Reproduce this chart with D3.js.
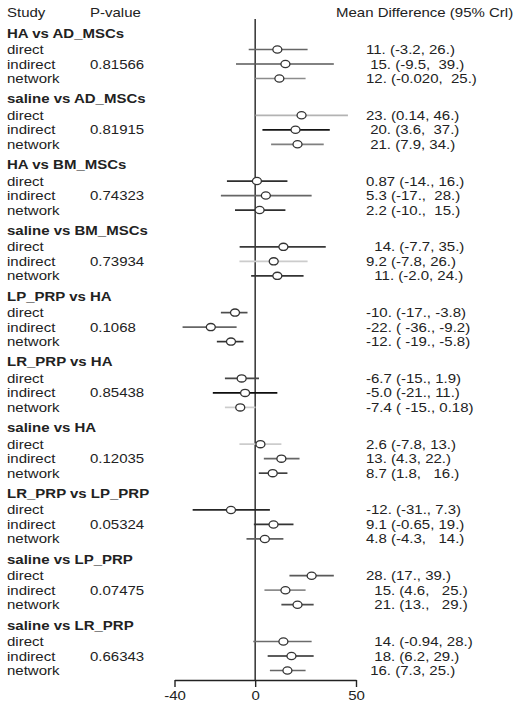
<!DOCTYPE html>
<html>
<head>
<meta charset="utf-8">
<script src="https://cdn.jsdelivr.net/npm/d3@7"></script>
<style>
  html, body { margin: 0; padding: 0; background: #fff; }
  svg { display: block; }
  text { font-family: "Liberation Sans", Arial, sans-serif; font-size: 12.5px; fill: #222; white-space: pre; }
</style>
</head>
<body>
<svg id="chart" width="521" height="707"></svg>
<script>
// ---- data ----
const comparisons = ["HA vs AD_MSCs", "saline vs AD_MSCs", "HA vs BM_MSCs", "saline vs BM_MSCs",
  "LP_PRP vs HA", "LR_PRP vs HA", "saline vs HA", "LR_PRP vs LP_PRP", "saline vs LP_PRP", "saline vs LR_PRP"];
const pValues = ["0.81566", "0.81915", "0.74323", "0.73934", "0.1068", "0.85438", "0.12035", "0.05324", "0.07475", "0.66343"];
const sources = ["direct", "indirect", "network"];
// per comparison: direct, indirect, network
const means = [11, 15, 12, 23, 20, 21, 0.87, 5.3, 2.2, 14, 9.2, 11, -10, -22, -12,
  -6.7, -5.0, -7.4, 2.6, 13, 8.7, -12, 9.1, 4.8, 28, 15, 21, 14, 18, 16];
const lowers = [-3.2, -9.5, -0.020, 0.14, 3.6, 7.9, -14, -17, -10, -7.7, -7.8, -2.0, -17, -36, -19,
  -15, -21, -15, -7.8, 4.3, 1.8, -31, -0.65, -4.3, 17, 4.6, 13, -0.94, 6.2, 7.3];
const uppers = [26, 39, 25, 46, 37, 34, 16, 28, 15, 35, 26, 24, -3.8, -9.2, -5.8,
  1.9, 11, 0.18, 13, 22, 16, 7.3, 19, 14, 39, 25, 29, 28, 29, 25];
const estimateLabels = [
  "11. (-3.2, 26.)", " 15. (-9.5,  39.)", "12. (-0.020,  25.)",
  "23. (0.14, 46.)", " 20. (3.6,  37.)", " 21. (7.9, 34.)",
  "0.87 (-14., 16.)", "5.3 (-17.,  28.)", "2.2 (-10.,  15.)",
  "  14. (-7.7, 35.)", "9.2 (-7.8, 26.)", "  11. (-2.0, 24.)",
  "-10. (-17., -3.8)", "-22. ( -36., -9.2)", "-12. ( -19., -5.8)",
  "-6.7 (-15., 1.9)", "-5.0 (-21., 11.)", "-7.4 ( -15., 0.18)",
  "2.6 (-7.8, 13.)", "13. (4.3, 22.)", "8.7 (1.8,   16.)",
  "-12. (-31., 7.3)", "9.1 (-0.65, 19.)", "4.8 (-4.3,   14.)",
  "28. (17., 39.)", "  15. (4.6,   25.)", "  21. (13.,   29.)",
  "  14. (-0.94, 28.)", "  18. (6.2, 29.)", " 16. (7.3, 25.)"
];
// relative line weight (shade) as seen in the picture, 0 = white, 1 = black
const weights = [0.6, 0.65, 0.45, 0.3, 0.92, 0.5, 0.82, 0.6, 0.82, 0.78, 0.2, 0.8,
  0.7, 0.6, 0.8, 0.72, 0.95, 0.2, 0.2, 0.6, 0.75, 0.85, 0.8, 0.62, 0.65, 0.45, 0.7, 0.58, 0.85, 0.6];
const tickValues = [-40, 0, 50];
const headers = ["Study", "P-value", "Mean Difference (95% Crl)"];

// ---- layout ----
const svg = d3.select("#chart");
const x = d3.scaleLinear().domain([-40, 50]).range([174.5, 356]);
const shade = d3.scaleLinear().domain([0, 1]).range(["#ffffff", "#000000"]);
const groupY = d3.scaleLinear().domain([0, comparisons.length - 1]).range([33, 625]);
const rowOffset = d3.scaleOrdinal().domain(sources).range([16.5, 31, 45.5]);
const axisY = 680;
const labelX = 7, pX = 90, estX = 366;
const base = 4.5; // baseline shift from row centre
const sx = 1.2;   // horizontal stretch of the lettering

function place(sel, fx, fy) {
  sel.attr("x", 0).attr("y", 0)
    .attr("transform", (d, i) => `translate(${fx(d, i)},${fy(d, i)}) scale(${sx},1)`);
}

// header
svg.selectAll("text.hdr").data(headers).join("text")
  .attr("class", "hdr")
  .call(place, (d, i) => [labelX, pX, 336][i], () => 12 + base)
  .text(d => d);

// zero line
svg.append("line")
  .attr("x1", x(0)).attr("x2", x(0)).attr("y1", 19).attr("y2", axisY)
  .attr("stroke", "#222").attr("stroke-width", 1.4);

const rows = [];
comparisons.forEach((c, g) => {
  sources.forEach((s, k) => {
    const i = g * 3 + k;
    rows.push({ g, s, k, mean: means[i], lo: lowers[i], hi: uppers[i], label: estimateLabels[i], w: weights[i],
      y: groupY(g) + rowOffset(s) });
  });
});

// group headers
svg.selectAll("text.grp").data(comparisons).join("text")
  .attr("class", "grp")
  .call(place, () => labelX, (d, g) => groupY(g) + base)
  .style("font-weight", "bold")
  .text(d => d);

// p-values (on the indirect row)
svg.selectAll("text.pv").data(pValues).join("text")
  .attr("class", "pv")
  .call(place, () => pX, (d, g) => groupY(g) + rowOffset("indirect") + base)
  .text(d => d);

// row labels
svg.selectAll("text.src").data(rows).join("text")
  .attr("class", "src")
  .call(place, () => labelX, d => d.y + base)
  .text(d => d.s);

// CI lines
svg.selectAll("line.ci").data(rows).join("line")
  .attr("class", "ci")
  .attr("x1", d => x(d.lo)).attr("x2", d => x(d.hi))
  .attr("y1", d => d.y).attr("y2", d => d.y)
  .attr("stroke", d => shade(d.w)).attr("stroke-width", 1.7);

// points
svg.selectAll("ellipse.pt").data(rows).join("ellipse")
  .attr("class", "pt")
  .attr("cx", d => x(d.mean)).attr("cy", d => d.y)
  .attr("rx", 4.5).attr("ry", 3.6)
  .attr("fill", "#fff").attr("stroke", "#333").attr("stroke-width", 1.3);

// estimate text
svg.selectAll("text.est").data(rows).join("text")
  .attr("class", "est")
  .call(place, () => estX, d => d.y + base)
  .text(d => d.label);

// x axis
const axis = d3.axisBottom(x).tickValues(tickValues).tickSize(7).tickSizeOuter(0).tickPadding(3)
  .tickFormat(d3.format("d"));
const ax = svg.append("g").attr("transform", `translate(0,${axisY})`).call(axis);
ax.select(".domain").attr("stroke", "#222").attr("stroke-width", 1.4);
ax.selectAll(".tick line").attr("stroke", "#222").attr("stroke-width", 1.4);
ax.selectAll(".tick text")
  .style("font-size", "12.5px").style("font-family", "'Liberation Sans', Arial, sans-serif")
  .attr("fill", "#222").attr("dy", null)
  .attr("y", 0)
  .attr("transform", `translate(0,20) scale(${sx},1)`)
  .text(d => String(d));
</script>
</body>
</html>
